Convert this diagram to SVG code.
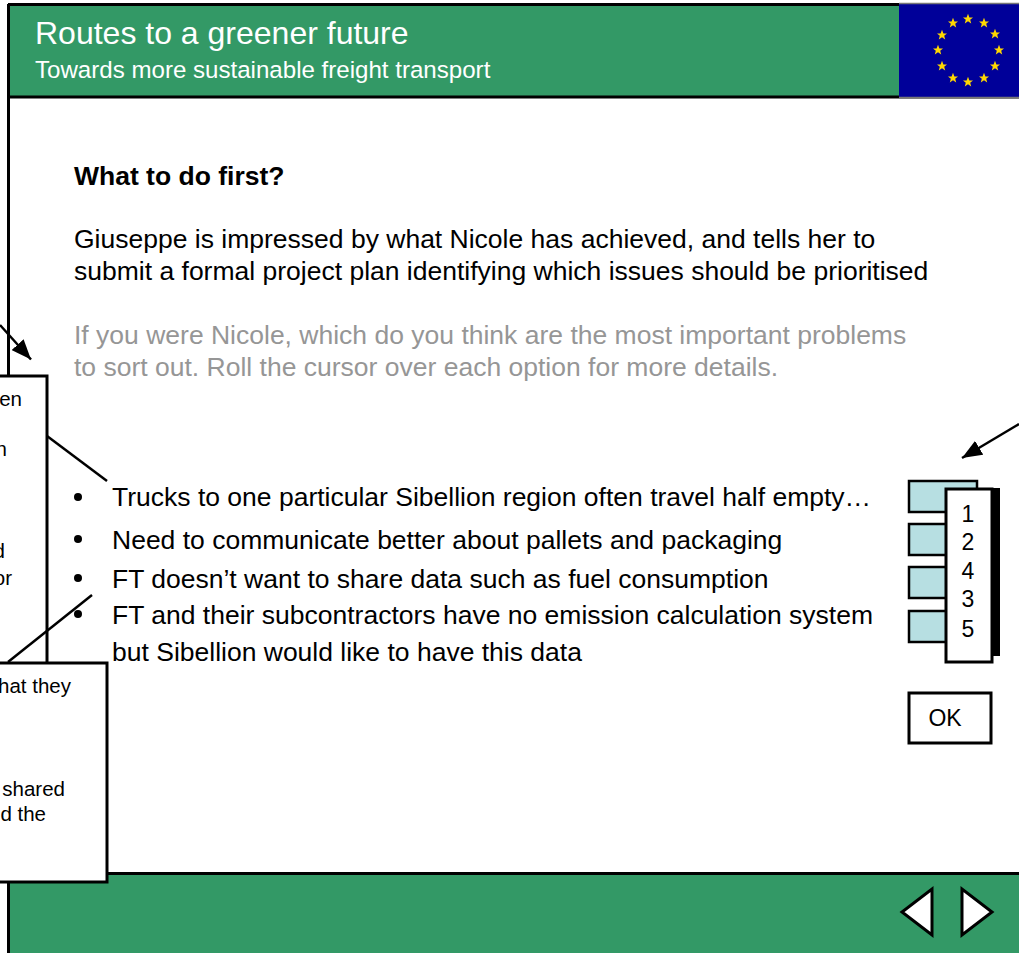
<svg xmlns="http://www.w3.org/2000/svg" width="1019" height="953" viewBox="0 0 1019 953">
<style>
text{font-family:"Liberation Sans",Arial,sans-serif;fill:#000}
.w{fill:#fff}
.b{font-size:26.5px}
.g{font-size:26.5px;fill:#969696}
.l{font-size:26.5px}
.s{font-size:20.5px;text-anchor:end}
.n{font-size:23px;text-anchor:middle}
.box{fill:#fff;stroke:#000;stroke-width:3}
.tab{fill:#b7dfe2;stroke:#000;stroke-width:2.5}
.ln{fill:none;stroke:#000;stroke-width:2.5}
.star{fill:#ffd800}
</style>
<defs>
<marker id="ah" markerUnits="userSpaceOnUse" markerWidth="21" markerHeight="16" refX="20" refY="8" orient="auto"><path d="M0 0L20 8L0 16z" fill="#000"/></marker>
<polygon id="st" class="star" points="0,-5.200 1.400,-1.600 5,-1.600 2.200,0.700 3.200,4.400 0,2.300 -3.200,4.400 -2.200,0.700 -5,-1.600 -1.400,-1.600"/>
</defs>
<rect width="1019" height="953" fill="#fff"/>
<g id="frame">
<rect x="8" y="4" width="1011" height="94" fill="#339966"/>
<path d="M8 4.500H1019M8 97H1019" stroke="#000" stroke-width="3" fill="none"/>
<rect x="899" y="4" width="120" height="94" fill="#000099"/>
<path d="M899 3.500H1019M899 97.500H1019" stroke="#777" stroke-width="1.500" fill="none"/>
<rect x="8" y="873" width="1011" height="80" fill="#339966"/>
<path d="M8 873.500H1019" stroke="#000" stroke-width="3" fill="none"/>
<path d="M8.500 4V953" stroke="#000" stroke-width="3" fill="none"/>
</g>
<g id="flag">
<use href="#st" x="968" y="19"/><use href="#st" x="953" y="23"/><use href="#st" x="984" y="23"/>
<use href="#st" x="942" y="35"/><use href="#st" x="995" y="34"/><use href="#st" x="938" y="50"/>
<use href="#st" x="999" y="50"/><use href="#st" x="942" y="66"/><use href="#st" x="995" y="66"/>
<use href="#st" x="953" y="78"/><use href="#st" x="984" y="78"/><use href="#st" x="968" y="82"/>
</g>
<g id="title">
<text x="35" y="44" class="w" font-size="32">Routes to a greener future</text>
<text x="35" y="78" class="w" font-size="24.100">Towards more sustainable freight transport</text>
</g>
<g id="body">
<text x="74" y="185" font-size="26.500" font-weight="bold">What to do first?</text>
<text x="74" y="248" class="b">Giuseppe is impressed by what Nicole has achieved, and tells her to</text>
<text x="74" y="280" class="b">submit a formal project plan identifying which issues should be prioritised</text>
<text x="74" y="344" class="g">If you were Nicole, which do you think are the most important problems</text>
<text x="74" y="376" class="g">to sort out. Roll the cursor over each option for more details.</text>
</g>
<g id="options">
<circle cx="78" cy="497" r="4"/><circle cx="78" cy="539" r="4"/><circle cx="78" cy="578" r="4"/><circle cx="78" cy="614" r="4"/>
<text x="112" y="506" class="l">Trucks to one particular Sibellion region often travel half empty…</text>
<text x="112" y="549" class="l">Need to communicate better about pallets and packaging</text>
<text x="112" y="588" class="l">FT doesn’t want to share data such as fuel consumption</text>
<text x="112" y="624" class="l">FT and their subcontractors have no emission calculation system</text>
<text x="112" y="661" class="l">but Sibellion would like to have this data</text>
</g>
<g id="popup1">
<rect class="box" x="-5" y="376" width="52" height="300"/>
<text x="22" y="406" class="s">en</text>
<text x="7" y="456" class="s">n</text>
<text x="5" y="558" class="s">d</text>
<text x="12" y="585" class="s">or</text>
</g>
<g id="connectors">
<path class="ln" d="M0 325L31 359.500" marker-end="url(#ah)"/>
<path class="ln" d="M1019 424L962 458" marker-end="url(#ah)"/>
<path class="ln" d="M47 436L107 481"/>
<path class="ln" d="M8 662L92 595"/>
</g>
<g id="popup2">
<rect class="box" x="-5" y="663" width="112" height="219"/>
<text x="71" y="693" class="s">hat they</text>
<text x="65" y="796" class="s">shared</text>
<text x="46" y="821" class="s">d the</text>
</g>
<g id="ranking">
<rect class="tab" x="909" y="481" width="68" height="31"/>
<rect class="tab" x="909" y="524" width="40" height="31"/>
<rect class="tab" x="909" y="567" width="40" height="31"/>
<rect class="tab" x="909" y="611" width="40" height="31"/>
<rect x="985" y="488" width="15" height="168" fill="#000"/>
<rect class="box" x="946" y="489" width="46" height="173"/>
<text x="968" y="522" class="n">1</text>
<text x="968" y="550" class="n">2</text>
<text x="968" y="579" class="n">4</text>
<text x="968" y="607" class="n">3</text>
<text x="968" y="637" class="n">5</text>
</g>
<g id="ok">
<rect class="box" x="909" y="693" width="82" height="50"/>
<text x="945" y="726" class="n">OK</text>
</g>
<g id="prev"><polygon points="932,889 932,935 902,912" fill="#fff" stroke="#000" stroke-width="3"/></g>
<g id="next"><polygon points="962,889 962,935 992,912" fill="#fff" stroke="#000" stroke-width="3"/></g>
</svg>
